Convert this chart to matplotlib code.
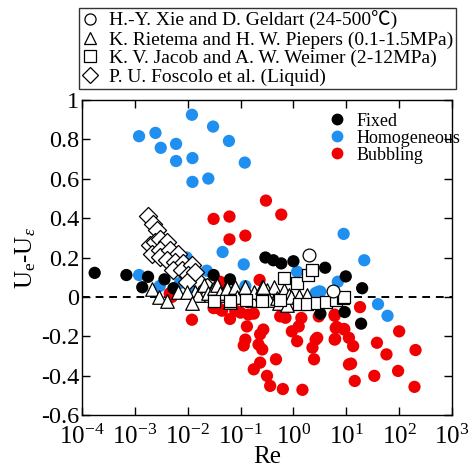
#imports
import numpy as np
import matplotlib.pyplot as plt
from matplotlib.lines import Line2D
from matplotlib.font_manager import FontProperties

plt.rcParams['font.family'] = ['Liberation Serif', 'Noto Sans CJK SC']
plt.rcParams['mathtext.fontset'] = 'custom'
plt.rcParams['mathtext.rm'] = 'Liberation Serif'
plt.rcParams['mathtext.it'] = 'Liberation Serif:italic'
plt.rcParams['axes.unicode_minus'] = False

#data, log10(Re) and Ue-Ueps
homo_logre = [-2.92, -2.61, -2.51, -2.22, -2.22, -1.92, -1.91, -1.91, -1.61, -1.52, -1.22, -0.92,
              -1.34, -0.94, -1.64, -2.92, -2.53, -2.02, -2.15, -1.90, -0.91, -1.16, -0.44,
              0.95, 0.07, 0.84, 0.42, 0.48, 0.23, 1.34, 1.60, 1.78, 0.51]
homo_y = [0.816, 0.833, 0.757, 0.777, 0.690, 0.925, 0.705, 0.584, 0.601, 0.865, 0.792, 0.682,
          0.228, 0.165, 0.133, 0.111, 0.055, 0.200, 0.070, 0.035, 0.055, 0.000, 0.000,
          0.320, 0.128, 0.077, 0.020, 0.027, -0.030, 0.186, -0.037, -0.096, 0.027]

fixed_logre = [-3.76, -3.16, -2.75, -2.86, -2.44, -2.27, -1.51, -1.20,
               -0.53, -0.38, -0.23, 0.00, 0.60, 0.99, 1.30, 0.97, 1.28, 0.51, -0.60, -0.10]
fixed_y = [0.122, 0.111, 0.102, 0.049, 0.089, 0.044, 0.111, 0.089,
           0.200, 0.186, 0.170, 0.181, 0.148, 0.104, 0.044, -0.077, -0.136, -0.085, 0.010, 0.005]

bub_logre = [-1.51, -1.21, -0.52, -0.23, -1.21, -0.91, -0.64, -1.32, -1.92, -2.34, -2.30,
             -1.51, -1.20, -1.35, -1.00, -0.85, -0.88, -0.91, -0.94, -0.57, -0.63, -0.66,
             -0.59, -0.63, -0.75, -0.33, -0.50, -0.44, -0.20, 0.17, -0.25, -0.15, -0.03,
             0.10, 0.15, 0.07, 0.42, 0.36, 0.39, 0.45, 0.48, 0.78, 0.80, 0.78, 0.96, 1.05,
             1.26, 0.78, 0.82, 0.96, 0.79, 1.05, 1.13, 1.09, 1.16, 1.53, 1.58, 1.76, 2.00,
             1.98, 2.31, 2.29, -1.39, -1.40, -1.10, -0.75]
bub_y = [0.396, 0.408, 0.489, 0.418, 0.292, 0.311, 0.086, 0.060, -0.116, 0.018, 0.000,
         -0.057, -0.112, -0.070, -0.080, -0.090, -0.150, -0.217, -0.247, -0.166, -0.190, -0.242,
         -0.267, -0.334, -0.368, -0.317, -0.401, -0.452, -0.468, -0.472, -0.099, -0.106, -0.175,
         -0.150, -0.107, -0.225, -0.217, -0.258, -0.317, -0.208, -0.099, -0.090, -0.158, -0.217, -0.166, -0.343,
         -0.052, -0.096, -0.153, -0.163, -0.213, -0.208, -0.250, -0.339, -0.427, -0.401, -0.233, -0.292, -0.175,
         -0.376, -0.270, -0.457, 0.077, -0.060, -0.070, -0.085]

xie_logre = [0.29, 0.74]
xie_y = [0.215, 0.030]

rie_logre = [-2.67, -2.54, -2.39, -2.18, -1.86, -1.70, -1.54, -1.42, -1.29, -1.13, -0.97, -0.78,
             -2.02, -1.80, -1.70, -1.61, -1.51, -1.45, -1.39, -1.26, -1.10, -1.07, -0.91, -0.75,
             -0.59, -0.50, -0.37, -0.47, -0.31, -1.20, -1.92, -0.18, -0.09, -0.28, -0.12, -0.05,
             -0.57, 0.10, 0.25]
rie_y = [0.039, 0.000, -0.019, 0.027, 0.027, 0.010, 0.035, 0.010, 0.035, 0.044, 0.018, -0.015,
         0.027, 0.010, 0.060, 0.018, 0.044, 0.060, 0.018, 0.044, 0.052, 0.000, 0.052, 0.027,
         0.052, 0.035, 0.052, -0.015, -0.007, -0.024, -0.032, 0.035, 0.010, -0.032, -0.040, 0.000,
         0.052, 0.005, 0.010]

jac_logre = [-0.17, 0.07, 0.27, 0.36, 0.10, 0.26, 0.44, 0.61, 0.80, 0.93, 0.96,
             -1.50, -1.20, -0.90, -0.60, -0.25]
jac_y = [0.094, 0.069, 0.111, 0.136, -0.035, -0.035, -0.032, -0.024, -0.015, -0.007, 0.000,
         -0.020, -0.022, -0.018, -0.020, -0.015]

fos_logre = [-2.75, -2.65, -2.59, -2.72, -2.62, -2.53, -2.40, -2.68, -2.53, -2.53, -2.34, -2.18,
             -2.40, -2.24, -2.08, -2.27, -2.11, -1.92, -1.99, -1.83, -2.02, -1.86, -1.64]
fos_y = [0.413, 0.371, 0.338, 0.262, 0.279, 0.296, 0.279, 0.220, 0.237, 0.203, 0.237, 0.220,
         0.186, 0.178, 0.170, 0.136, 0.136, 0.161, 0.111, 0.086, 0.077, 0.128, 0.052]

yticks = [-0.6, -0.4, -0.2, 0, 0.2, 0.4, 0.6, 0.8, 1]
ytick_labels = ['-0.6', '-0.4', '-0.2', '0', '0.2', '0.4', '0.6', '0.8', '1']
xexp = [-4, -3, -2, -1, 0, 1, 2, 3]

blue = '#1f8ff0'
red = '#f00000'

fig = plt.figure(figsize=(4.75, 4.69), dpi=100)
ax = fig.add_axes([0.1726, 0.1151, 0.7790, 0.6717])

def re(v):
	return 10.0**np.array(v)

ms = 78
ax.scatter(re(homo_logre), homo_y, s=ms, c=blue, edgecolors='none', zorder=2)
ax.scatter(re(bub_logre), bub_y, s=ms, c=red, edgecolors='none', zorder=2)
ax.scatter(re(fixed_logre), fixed_y, s=ms, c='k', edgecolors='none', zorder=3)

ow = 0.9
ax.scatter(re(fos_logre), fos_y, s=85, marker='D', facecolors='white', edgecolors='k', linewidths=ow, zorder=4)
ax.scatter(re(rie_logre), rie_y, s=95, marker='^', facecolors='white', edgecolors='k', linewidths=ow, zorder=4)
ax.scatter(re(jac_logre), jac_y, s=85, marker='s', facecolors='white', edgecolors='k', linewidths=ow, zorder=4)
ax.scatter(re(xie_logre), xie_y, s=85, marker='o', facecolors='white', edgecolors='k', linewidths=ow, zorder=4)

ax.axhline(0, color='k', ls='--', lw=1.4, dashes=(4, 3), zorder=1)

ax.set_xscale('log')
ax.set_xlim(1e-4, 1e3)
ax.set_ylim(-0.6, 1.0)
ax.set_xticks([10.0**e for e in xexp])
ax.set_xticklabels([r'$10^{%d}$' % e for e in xexp], fontsize=18)
ax.minorticks_off()
ax.set_yticks(yticks)
ax.set_yticklabels(ytick_labels, fontsize=17.5)
ax.tick_params(direction='in', top=True, right=True, length=6, width=1)
ax.tick_params(axis='x', pad=7)
ax.tick_params(axis='y', pad=2)
for s in ax.spines.values():
	s.set_linewidth(1.0)
ax.set_xlabel('Re', fontsize=18, labelpad=-2)
ax.set_ylabel(r'U$_\mathrm{e}$-U$_\varepsilon$', fontsize=18, labelpad=2)

#legend inside, phase types
h1 = [Line2D([], [], ls='none', marker='o', ms=8.5, mfc=c, mec='none') for c in ['k', blue, red]]
ax.legend(h1, ['Fixed', 'Homogeneous', 'Bubbling'], loc='upper left', bbox_to_anchor=(0.635, 1.0),
          frameon=False, fontsize=13, labelspacing=0.0, handlelength=0.8, handletextpad=0.7, borderpad=0.2)

#legend on top, sources
h2 = [Line2D([], [], ls='none', marker=m, ms=8, mfc='white', mec='k', mew=0.9) for m in ['o', '^', 's', 'D']]
lab2 = ['H.-Y. Xie and D. Geldart (24-500\u2103)', 'K. Rietema and H. W. Piepers (0.1-1.5MPa)',
        'K. V. Jacob and A. W. Weimer (2-12MPa)', 'P. U. Foscolo et al. (Liquid)']
fp = FontProperties(family=['Liberation Serif', 'Noto Sans CJK SC'], size=14)
leg = fig.legend(h2, lab2, loc='upper left', bbox_to_anchor=(79/475, 1 - 8/469), prop=fp,
                 frameon=True, fancybox=False, edgecolor='k', labelspacing=0.05, handlelength=0.8,
                 handletextpad=0.6, borderpad=0.15, borderaxespad=0)
leg.get_frame().set_linewidth(1.0)

plt.savefig('out.png', dpi=100)
